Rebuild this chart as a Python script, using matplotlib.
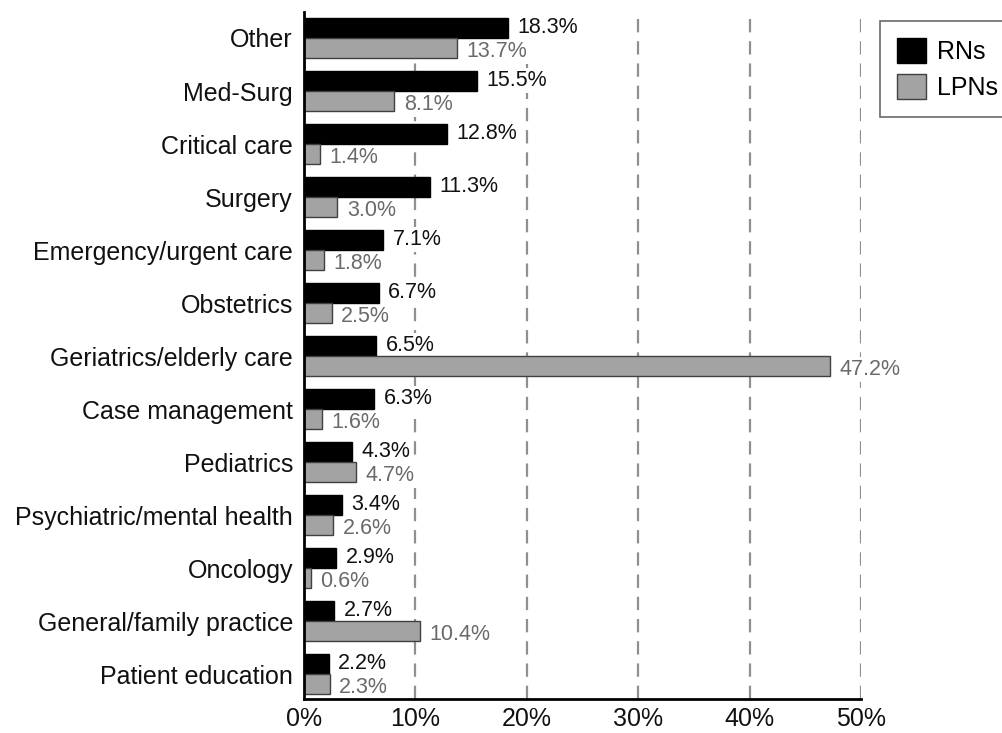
import matplotlib
matplotlib.use("Agg")
import matplotlib.pyplot as plt
import numpy as np

categories = ["Other", "Med-Surg", "Critical care", "Surgery", "Emergency/urgent care",
              "Obstetrics", "Geriatrics/elderly care", "Case management", "Pediatrics",
              "Psychiatric/mental health", "Oncology", "General/family practice",
              "Patient education"]
rns = [18.3, 15.5, 12.8, 11.3, 7.1, 6.7, 6.5, 6.3, 4.3, 3.4, 2.9, 2.7, 2.2]
lpns = [13.7, 8.1, 1.4, 3.0, 1.8, 2.5, 47.2, 1.6, 4.7, 2.6, 0.6, 10.4, 2.3]
xticks = [0, 10, 20, 30, 40, 50]

plt.rcParams['font.family'] = ['Liberation Sans', 'DejaVu Sans']

fig = plt.figure(figsize=(10.02, 7.33), dpi=100)
ax = fig.add_axes([0.3034, 0.0464, 0.5559, 0.9372])

y = np.arange(len(categories))
h = 0.37
off = 0.19
ax.barh(y - off, rns, height=h, color='black', edgecolor='black', linewidth=1, label='RNs', zorder=3)
ax.barh(y + off, lpns, height=h, color='#a3a3a3', edgecolor='#404040', linewidth=1, label='LPNs', zorder=3)

box = dict(facecolor='white', edgecolor='none', pad=1.5)
for yi, v in zip(y, rns):
    ax.text(v + 0.85, yi - off - 0.01, f"{v:.1f}%", va='center', ha='left', fontsize=15.5,
            color='#111111', bbox=box, zorder=2)
for yi, v in zip(y, lpns):
    ax.text(v + 0.85, yi + off + 0.07, f"{v:.1f}%", va='center', ha='left', fontsize=15.5,
            color='#6a6a6a', bbox=box, zorder=2)

ax.set_xlim(0, 50)
ax.set_ylim(12.47, -0.49)
ax.set_yticks(y)
ax.set_yticklabels(categories, fontsize=18, color='#111111')
ax.set_xticks(xticks)
ax.set_xticklabels([f"{t}%" for t in xticks], fontsize=18, color='#111111')
ax.tick_params(axis='y', length=0, pad=8)
ax.tick_params(axis='x', length=0, pad=6)

for t in xticks[1:]:
    ax.axvline(t, color='#8f8f8f', linestyle=(0, (6, 4)), linewidth=1.6, zorder=1)

for s in ['top', 'right']:
    ax.spines[s].set_visible(False)
ax.spines['left'].set_linewidth(2)
ax.spines['bottom'].set_linewidth(2)
ax.spines['left'].set_zorder(5)
ax.spines['bottom'].set_zorder(5)

leg = fig.legend(loc='upper left', bbox_to_anchor=(0.878, 0.972), fontsize=18,
                 frameon=True, fancybox=False, edgecolor='#444444',
                 handlelength=1.15, handleheight=1.2, handletextpad=0.45,
                 borderpad=0.68, labelspacing=0.4, borderaxespad=0)
leg.get_frame().set_linewidth(1.2)

fig.savefig("out.png", dpi=100)
